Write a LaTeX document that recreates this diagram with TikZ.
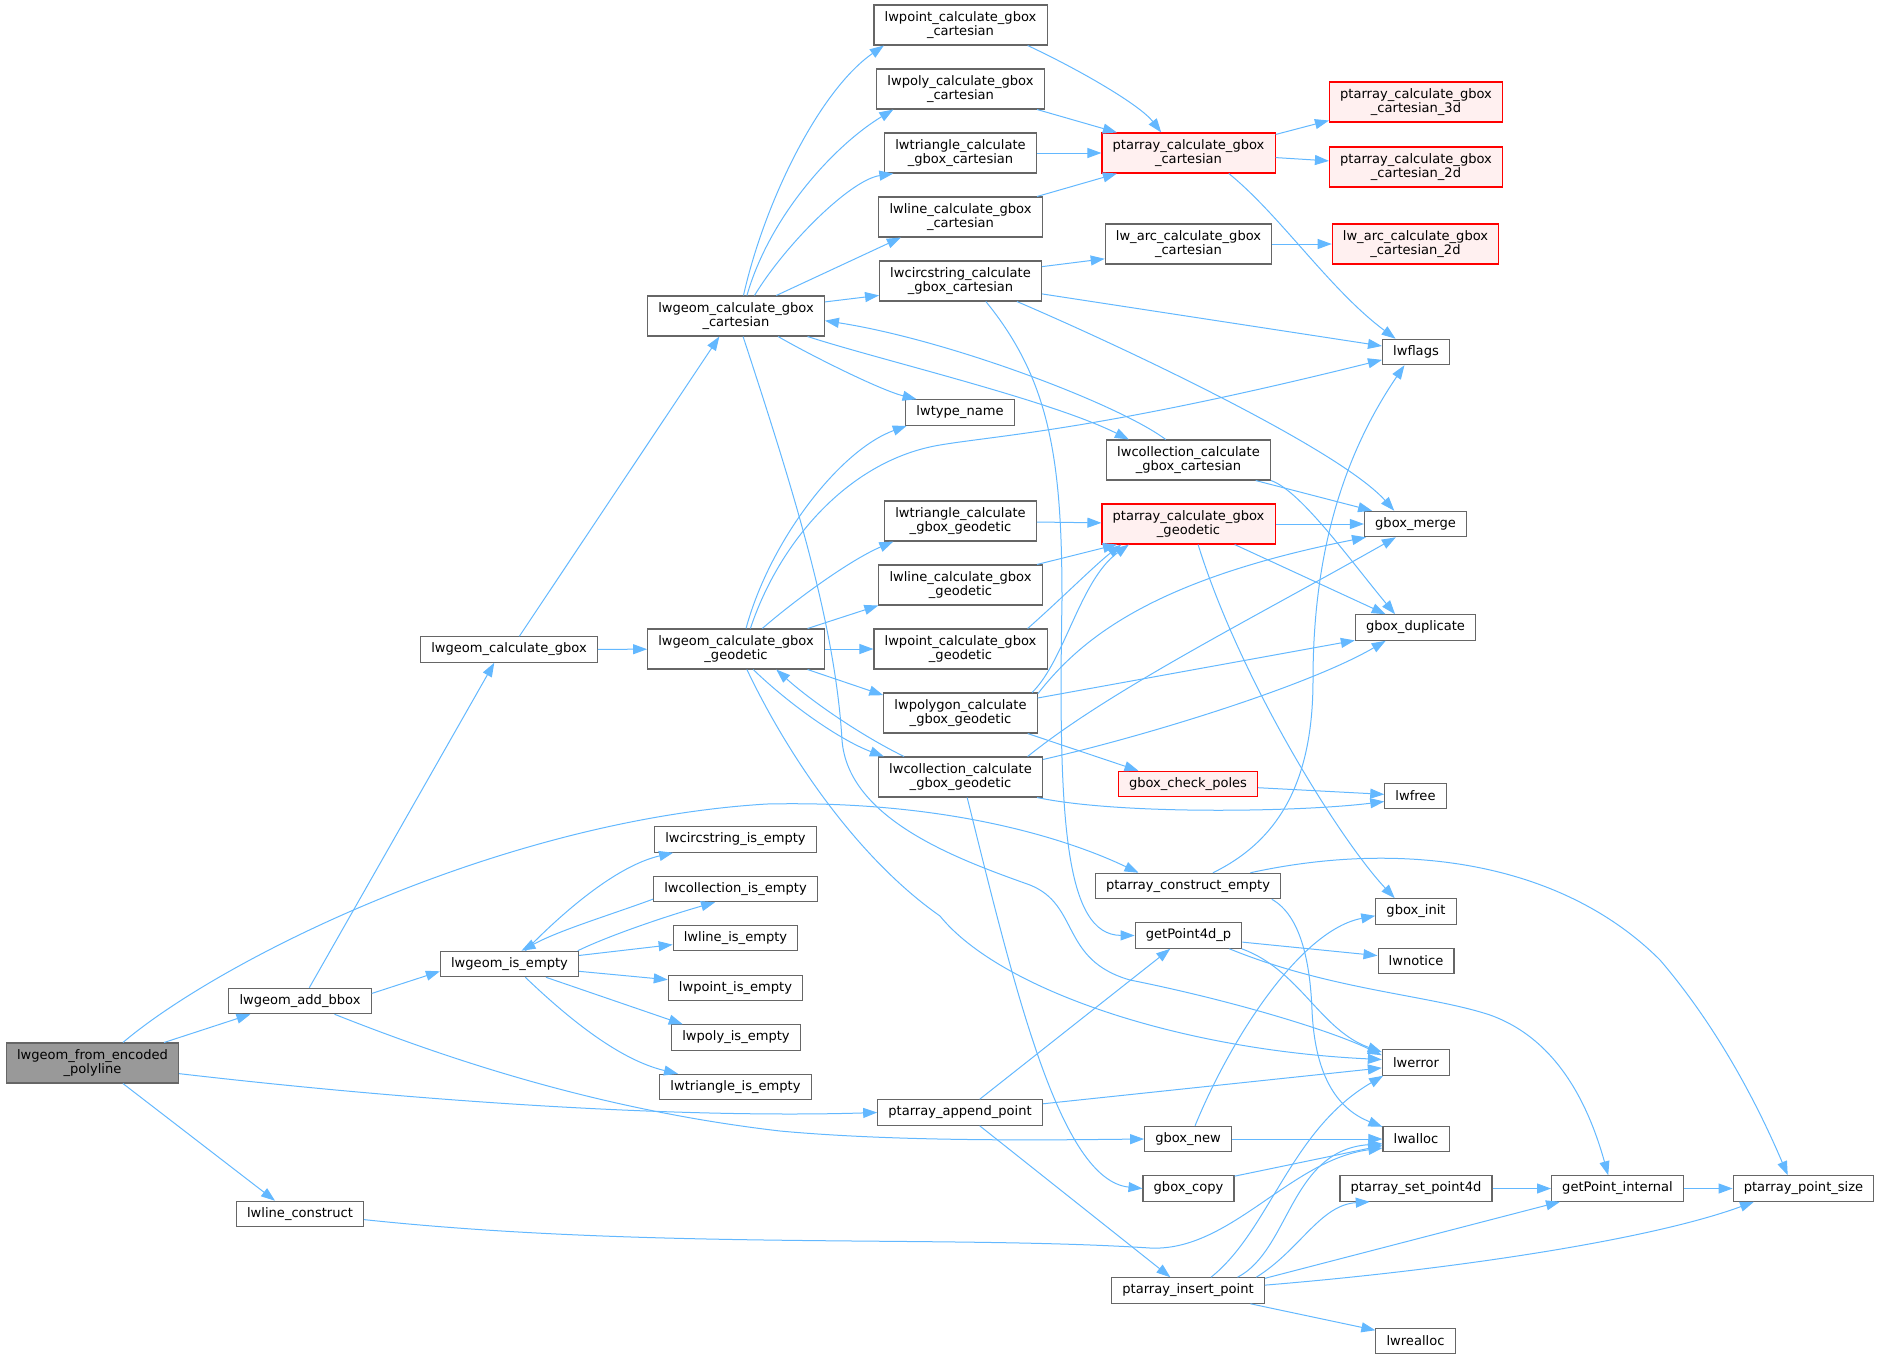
\documentclass[tikz,border=0pt]{standalone}
\usepackage{fontspec}
\setmainfont{DejaVu Sans}
\usetikzlibrary{arrows.meta}
\definecolor{callblue}{RGB}{99,184,255}
\definecolor{boxgray}{RGB}{102,102,102}
\definecolor{redfill}{RGB}{255,240,240}
\definecolor{rootgray}{RGB}{153,153,153}
\tikzset{
  box/.style={draw=boxgray, fill=white, line width=0.8pt, inner xsep=8pt, inner ysep=2pt,
    minimum height=19.1pt, align=center, font=\fontsize{9.8pt}{10.8pt}\selectfont},
  tall/.style={minimum height=30pt},
  redbox/.style={box, draw=red, fill=redfill},
  rootbox/.style={box, fill=rootgray},
  call/.style={draw=callblue, line width=0.75pt, -{Triangle[length=10.5pt,width=7.5pt]}}
}
\begin{document}
\begin{tikzpicture}[x=0.75pt,y=-0.75pt]
      \useasboundingbox (0,0) rectangle (1881,1357);
      \draw
        (92.5,1063) node[rootbox,tall] (F){lwgeom\_from\_encoded\\\_polyline}
        (300,1001) node[box] (AB){lwgeom\_add\_bbox}
        (300,1214) node[box] (LC){lwline\_construct}
        (509,649.5) node[box] (CG){lwgeom\_calculate\_gbox}
        (509.5,964) node[box] (IE){lwgeom\_is\_empty}
        (736,316) node[box,tall] (CC){lwgeom\_calculate\_gbox\\\_cartesian}
        (736,649) node[box,tall] (CGg){lwgeom\_calculate\_gbox\\\_geodetic}
        (735.5,839.5) node[box] (ISc){lwcircstring\_is\_empty}
        (735.5,889) node[box] (ISk){lwcollection\_is\_empty}
        (735.5,938) node[box] (ISl){lwline\_is\_empty}
        (735.5,988) node[box] (ISp){lwpoint\_is\_empty}
        (736,1037.5) node[box] (ISy){lwpoly\_is\_empty}
        (735.5,1087) node[box] (ISt){lwtriangle\_is\_empty}
        (960.5,25) node[box,tall] (ptC){lwpoint\_calculate\_gbox\\\_cartesian}
        (960.5,89) node[box,tall] (pyC){lwpoly\_calculate\_gbox\\\_cartesian}
        (960.5,153) node[box,tall] (trC){lwtriangle\_calculate\\\_gbox\_cartesian}
        (960.5,217) node[box,tall] (lnC){lwline\_calculate\_gbox\\\_cartesian}
        (960.5,281) node[box,tall] (csC){lwcircstring\_calculate\\\_gbox\_cartesian}
        (960,412.5) node[box] (tn){lwtype\_name}
        (960.5,521) node[box,tall] (trG){lwtriangle\_calculate\\\_gbox\_geodetic}
        (960.5,585) node[box,tall] (lnG){lwline\_calculate\_gbox\\\_geodetic}
        (960.5,649) node[box,tall] (ptG){lwpoint\_calculate\_gbox\\\_geodetic}
        (960.5,713) node[box,tall] (pgG){lwpolygon\_calculate\\\_gbox\_geodetic}
        (960.5,777) node[box,tall] (coG){lwcollection\_calculate\\\_gbox\_geodetic}
        (960,1112.5) node[box] (ap){ptarray\_append\_point}
        (1188.5,153) node[redbox,tall] (paC){ptarray\_calculate\_gbox\\\_cartesian}
        (1188.5,244) node[box,tall] (arC){lw\_arc\_calculate\_gbox\\\_cartesian}
        (1188.5,460) node[box,tall] (coC){lwcollection\_calculate\\\_gbox\_cartesian}
        (1188.5,524) node[redbox,tall] (paG){ptarray\_calculate\_gbox\\\_geodetic}
        (1188,784) node[redbox] (cp){gbox\_check\_poles}
        (1188,886) node[box] (ce){ptarray\_construct\_empty}
        (1188.5,935.5) node[box] (g4){getPoint4d\_p}
        (1188,1139) node[box] (gn){gbox\_new}
        (1188.5,1188.5) node[box] (gc){gbox\_copy}
        (1188,1290.5) node[box] (ip){ptarray\_insert\_point}
        (1416,102) node[redbox,tall] (p3){ptarray\_calculate\_gbox\\\_cartesian\_3d}
        (1416,167) node[redbox,tall] (p2){ptarray\_calculate\_gbox\\\_cartesian\_2d}
        (1415.5,244) node[redbox,tall] (a2){lw\_arc\_calculate\_gbox\\\_cartesian\_2d}
        (1416,352) node[box] (fl){lwflags}
        (1415.5,524) node[box] (gm){gbox\_merge}
        (1415.5,627.5) node[box] (gd){gbox\_duplicate}
        (1415.5,796) node[box] (fr){lwfree}
        (1416,911.5) node[box] (gi){gbox\_init}
        (1416,961) node[box] (no){lwnotice}
        (1416,1062.5) node[box] (er){lwerror}
        (1416,1139) node[box] (al){lwalloc}
        (1416,1188.5) node[box] (sp){ptarray\_set\_point4d}
        (1415.5,1341) node[box] (ra){lwrealloc}
        (1617.5,1188.5) node[box] (gp){getPoint\_internal}
        (1803.5,1188.5) node[box] (ps){ptarray\_point\_size};
      \begin{scope}[call]
        % lwgeom_from_encoded_polyline
        \draw (F.16) to (AB.195);
        \draw (F.34) .. controls (220,960) and (500,820) .. (767,804) .. controls (950,800) and (1070,840) .. (ce.165);
        \draw (F.-7) .. controls (450,1105) and (700,1118) .. (ap.180);
        \draw (F.-34) to (LC.152);
        % lwgeom_add_bbox
        \draw (AB.55) to (CG.222);
        \draw (AB.6) to (IE.186);
        \draw (AB.-21) .. controls (450,1060) and (600,1110) .. (780,1131) .. controls (900,1142) and (1050,1140) .. (gn.180);
        % lwgeom_calculate_gbox
        \draw (CG.52) to (CC.231);
        \draw (CG) to (CGg);
        % lwgeom_is_empty
        \draw (IE.40) .. controls (570,905) and (620,865) .. (ISc.192);
        \draw (IE.11) .. controls (610,935) and (670,915) .. (ISk.213);
        \draw (IE.7) to (ISl.186);
        \draw (IE.-6) to (ISp.173);
        \draw (IE.-20) to (ISy.166);
        \draw (IE.-40) .. controls (570,1020) and (620,1060) .. (ISt.167);
        \draw (ISk.187) .. controls (610,915) and (560,930) .. (IE.48);
        % lwgeom_calculate_gbox_cartesian
        \draw (CC.70) .. controls (765,200) and (820,90) .. (ptC.195);
        \draw (CC.62) .. controls (770,215) and (835,145) .. (pyC.197);
        \draw (CC.48) .. controls (785,245) and (850,180) .. (trC.197);
        \draw (CC.27) to (lnC.199);
        \draw (CC.9) to (csC.190);
        \draw (CC.-26) .. controls (810,355) and (880,390) .. (tn.163);
        \draw (CC.-16) .. controls (880,360) and (1050,400) .. (coC.161);
        \draw (CC.-71) .. controls (790,480) and (835,620) .. (842,740) .. controls (848,820) and (960,860) .. (1030,885) .. controls (1080,905) and (1060,960) .. (1130,980) .. controls (1230,1000) and (1330,1030) .. (er.168);
        \draw (coC.138) .. controls (1120,405) and (950,340) .. (CC.-3);
        \draw (coC.-17) to (gm.163);
        \draw (coC.-14) .. controls (1300,490) and (1350,560) .. (gd.147);
        % lwcircstring_calculate_gbox_cartesian
        \draw (csC.10) to (arC.190);
        \draw (csC.-9) to (fl.170);
        \draw (csC.-20) .. controls (1130,350) and (1340,450) .. (gm.148);
        \draw (csC.-39) .. controls (1050,380) and (1062,460) .. (1062,600) .. controls (1058,820) and (1065,935) .. (g4.180);
        \draw (arC) to (a2);
        % ptarray_calculate_gbox_cartesian
        \draw (ptC.-17) .. controls (1080,70) and (1140,105) .. (paC.143);
        \draw (pyC.-15) to (paC.164);
        \draw (trC) to (paC);
        \draw (lnC.15) to (paC.196);
        \draw (paC.12) to (p3.192);
        \draw (paC.-3) to (p2.176);
        \draw (paC.-27) .. controls (1280,215) and (1330,290) .. (fl.147);
        % lwgeom_calculate_gbox_geodetic
        \draw (CGg.64) .. controls (770,540) and (840,450) .. (tn.194);
        \draw (CGg.55) .. controls (780,540) and (850,460) .. (940,445) .. controls (1000,435) and (1100,430) .. (fl.193);
        \draw (CGg.38) .. controls (795,600) and (850,560) .. (trG.197);
        \draw (CGg.16) to (lnG.194);
        \draw (CGg) to (ptG);
        \draw (CGg.-16) to (pgG.167);
        \draw (CGg.-50) .. controls (790,705) and (840,740) .. (coG.165);
        \draw (CGg.-62) .. controls (790,760) and (860,860) .. (940,916) .. controls (1000,990) and (1180,1050) .. (er.175);
        % ptarray_calculate_gbox_geodetic
        \draw (trG) to (paG);
        \draw (lnG.15) to (paG.196);
        \draw (ptG.17) .. controls (1060,600) and (1095,565) .. (paG.197);
        \draw (pgG.16) .. controls (1065,660) and (1080,580) .. (paG.199);
        \draw (pgG.14) .. controls (1080,640) and (1150,580) .. (gm.195);
        \draw (pgG.11) to (gd.192);
        \draw (pgG.-17) to (cp.165);
        \draw (paG) to (gm);
        \draw (paG.-24) to (gd.156);
        \draw (paG.-65) .. controls (1240,680) and (1340,840) .. (gi.148);
        % lwcollection_calculate_gbox_geodetic
        \draw (coG.160) .. controls (860,735) and (810,700) .. (CGg.-27);
        \draw (coG.17) .. controls (1110,690) and (1250,620) .. (gm.214);
        \draw (coG.12) .. controls (1150,735) and (1310,685) .. (gd.204);
        \draw (coG.-15) .. controls (1120,815) and (1300,812) .. (fr.190);
        \draw (coG.-72) .. controls (1015,990) and (1060,1180) .. (gc.180);
        \draw (cp) to (fr);
        % ptarray_construct_empty
        \draw (ce.28) .. controls (1280,840) and (1313,780) .. (1313,680) .. controls (1313,560) and (1340,460) .. (fl.229);
        \draw (ce.12) .. controls (1400,840) and (1560,860) .. (1660,960) .. controls (1720,1030) and (1760,1110) .. (ps.140);
        \draw (ce.-9) .. controls (1300,915) and (1310,960) .. (1312,1010) .. controls (1315,1080) and (1340,1110) .. (al.160);
        % getPoint4d_p
        \draw (g4.-7) to (no.172);
        \draw (g4.-14) .. controls (1300,970) and (1320,1030) .. (er.163);
        \draw (g4.-18) .. controls (1330,990) and (1430,995) .. (1490,1015) .. controls (1560,1040) and (1590,1110) .. (gp.125);
        % ptarray_append_point
        \draw (ap.34) to (g4.216);
        \draw (ap.6) to (er.189);
        \draw (ap.-34) to (ip.143);
        % gbox_new, gbox_copy, lwline_construct
        \draw (gn.62) .. controls (1230,1040) and (1300,930) .. (gi.186);
        \draw (gn) to (al);
        \draw (gc.15) to (al.191);
        \draw (LC.-5) .. controls (650,1250) and (950,1235) .. (1150,1248) .. controls (1230,1252) and (1290,1160) .. (al.195);
        % ptarray_insert_point
        \draw (ip.30) .. controls (1270,1230) and (1290,1130) .. (er.202);
        \draw (ip.15) .. controls (1290,1250) and (1290,1150) .. (al.188);
        \draw (ip.11) .. controls (1300,1250) and (1320,1205) .. (sp.196);
        \draw (ip.9) to (gp.193);
        \draw (ip.4) .. controls (1450,1270) and (1650,1240) .. (ps.195);
        \draw (ip.-12) to (ra.165);
        \draw (sp) to (gp);
        \draw (gp) to (ps);
      \end{scope}
    \end{tikzpicture}
\end{document}
